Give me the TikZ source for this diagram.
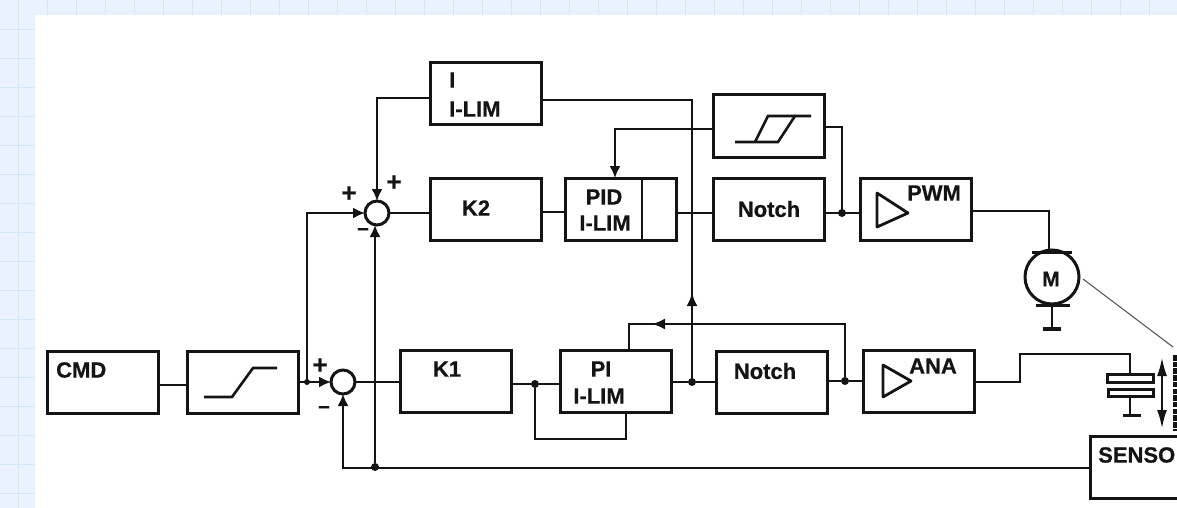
\documentclass[tikz,border=0pt]{standalone}
\usepackage{fontspec}
\setmainfont{Liberation Sans}[BoldFeatures={FakeBold=0.6}]
\usetikzlibrary{arrows.meta}
\definecolor{ink}{HTML}{141414}
\definecolor{gridbg}{HTML}{EAF3FD}
\definecolor{gridln}{HTML}{D4E6FA}
\tikzset{
  x=1pt,y=-1pt,
  wire/.style={draw=ink,line width=2pt},
  arr/.style={wire,-{Latex[length=12pt,width=11pt]}},
  blk/.style={draw=ink,line width=3pt,fill=white,minimum width=111pt,minimum height=62pt,inner sep=0pt,outer sep=0pt,anchor=north west},
  lab/.style={font=\fontsize{22}{24}\selectfont\bfseries,text=ink,inner sep=0pt,align=center},
  sum/.style={circle,draw=ink,line width=3pt,fill=white,minimum size=24pt,inner sep=0pt,outer sep=0pt},
  dot/.style={circle,fill=ink,minimum size=8pt,inner sep=0pt,outer sep=0pt},
  sgn/.style={font=\fontsize{26}{26}\selectfont\bfseries,text=ink,inner sep=0pt},
  thick2/.style={draw=ink,line width=3pt},
}
\begin{document}
\begin{tikzpicture}
\useasboundingbox (0,0) rectangle (1177,508);
\fill[gridbg] (0,0) rectangle (1177,508);
\foreach \i in {0,...,40} \draw[gridln,line width=0.9pt] (18+29*\i,0) -- (18+29*\i,15);
\foreach \i in {0,...,17} \draw[gridln,line width=0.9pt] (0,29+29*\i) -- (35,29+29*\i);
\draw[gridln,line width=0.9pt] (18,0) -- (18,508);
\fill[white] (35,15) rectangle (1177,508);
% blocks
\node[blk] (cmd) at (47,351) {};
\node[blk] (sat) at (187,351) {};
\node[blk] (k1) at (400,350) {};
\node[blk] (pi) at (560,350) {};
\node[blk] (n2) at (716,351) {};
\node[blk] (ana) at (863,350) {};
\node[blk] (ilim) at (430,63) {};
\node[blk] (k2) at (430,178) {};
\node[blk] (pid) at (565,178) {};
\node[blk] (hys) at (713,95) {};
\node[blk] (n1) at (713,178) {};
\node[blk] (pwm) at (860,178) {};
\path[clip] (0,0) rectangle (1177,508);
\node[blk,minimum width=120pt] (sens) at (1090,436) {};
\node[sum] (s1) at (377,213) {};
\node[sum] (s2) at (343,382) {};
\node[circle,draw=ink,line width=3pt,fill=white,minimum size=54pt,inner sep=0pt,outer sep=0pt] (mot) at (1052,277) {};
% dots and free points
\node[dot,minimum size=6pt] (d0) at (307,382) {};
\node[dot] (d1) at (535,384) {};
\node[dot] (d2) at (692,382) {};
\node[dot] (d3) at (845,381) {};
\node[dot] (d4) at (842,213) {};
\node[dot] (d5) at (375,467) {};
\coordinate (mt) at (1049,252);
\coordinate (cp) at (1130,374);
% labels
\node[lab,anchor=west] at (56,370) {CMD};
\node[lab,anchor=west] at (449,80) {I};
\node[lab,anchor=west] at (449,109) {I-LIM};
\node[lab] at (476,208) {K2};
\node[lab] at (604,197) {PID};
\node[lab] at (605,223) {I-LIM};
\node[lab] at (769,209) {Notch};
\node[lab] at (447,369) {K1};
\node[lab] at (601,369) {PI};
\node[lab] at (599,396) {I-LIM};
\node[lab] at (765,371) {Notch};
\node[lab] at (934,193) {PWM};
\node[lab] at (933,366) {ANA};
\node[lab,anchor=west] at (1098,455) {SENSO};
\node[font=\fontsize{21}{21}\selectfont\bfseries,text=ink] at (1051,279) {M};
\node[sgn] at (349,194) {+};
\node[sgn] at (394,183) {+};
\node[sgn] at (363,232) {\fontsize{20}{20}\selectfont −};
\node[sgn] at (320,366) {+};
\node[sgn] at (324,410) {\fontsize{20}{20}\selectfont −};
% connectors
\draw[wire,line width=2.6pt] (cmd.east |- 0,385) -- (sat.west |- 0,385);
\draw[arr] (sat.east |- s2.west) -- (s2.west);
\draw[arr] (d0.center) -- (d0.center |- s1.west) -- (s1.west);
\draw[wire] (s1.east) -- (k2.west |- s1.east);
\draw[wire] (k2.east |- 0,212) -- (pid.west |- 0,212);
\draw[wire] (pid.east |- d4) -- (n1.west |- d4);
\draw[wire] (n1.east |- d4) -- (pwm.west |- d4);
\draw[wire] (hys.east |- 0,127) -- (d4.center |- 0,127) -- (d4.center);
\draw[arr] (hys.west |- 0,129) -- (615,129) -- (pid.north -| 615,0);
\draw[arr] (ilim.west |- 0,98) -- (s1.north |- 0,98) -- (s1.north);
\draw[wire] (ilim.east |- 0,100) -- (692,100) -- (d2.center);
\draw[draw=ink,line width=2pt,-{Latex[length=13pt,width=11pt]}] (d2.center) -- (692,293);
\draw[wire] (pwm.east |- 0,211) -- (mt |- 0,211) -- (mt);
\draw[wire] (s2.east) -- (k1.west |- s2.east);
\draw[wire] (k1.east |- d1) -- (d1) -- (pi.west |- d1);
\draw[wire] (d1) -- (d1 |- 0,439) -- (626,439) -- (pi.south -| 626,0);
\draw[wire] (pi.east |- d2) -- (d2) -- (n2.west |- d2);
\draw[wire] (n2.east |- d3) -- (d3) -- (ana.west |- d3);
\draw[wire] (d3) -- (d3 |- 0,324) -- (629,324) -- (pi.north -| 629,0);
\draw[draw=ink,line width=2pt,-{Latex[length=13pt,width=11pt]}] (d3 |- 0,324) -- (652,324);
\draw[wire] (ana.east |- 0,382) -- (1020,382) -- (1020,354) -- (cp |- 0,354) -- (cp);
\draw[arr] (sens.west |- 0,468) -- (s2.south |- 0,468) -- (s2.south);
\draw[arr] (d5) -- (s1.south -| d5);
\draw[draw=ink!70,line width=1.1pt] (mot.east |- 0,279) ++(4,0) coordinate (ml) -- (1173,347);
% motor detail
\draw[thick2] (1032,252) -- (1072,252);
\draw[thick2] (1036,305) -- (1070,305);
\draw[wire] (1052,305) -- (1052,329);
\draw[draw=ink,line width=4.5pt] (1043,329) -- (1061,329);
% capacitor
\draw[thick2] (1107,374) rectangle (1153,382);
\draw[thick2] (1108,389) rectangle (1153,396);
\draw[wire] (1130,396) -- (1130,415);
\draw[thick2] (1123,415) -- (1141,415);
% motion arrows
\draw[draw=ink,line width=2.6pt,{Latex[length=19pt,width=10pt]}-{Latex[length=19pt,width=10pt]}] (1162,357) -- (1162,429);
% hatched column
\draw[draw=ink,line width=4.5pt,dash pattern=on 5.5pt off 1.2pt] (1175.3,355) -- (1175.3,431);
% saturation glyph
\draw[wire,line width=2.6pt] (204,397) -- (232,397) -- (253,368) -- (277,368);
% hysteresis glyph
\draw[wire,line width=2.6pt] (735,142) -- (778,142) -- (795,116) -- (811,116);
\draw[wire,line width=2.6pt] (755,142) -- (768,116) -- (795,116);
% amplifier triangles
\draw[draw=ink,line width=2.8pt,line join=round] (877,193) -- (908,213) -- (877,227) -- cycle;
\draw[draw=ink,line width=2.8pt,line join=round] (883,365) -- (911,381) -- (883,397) -- cycle;
% PID divider
\draw[wire,line width=2.4pt] (642,178) -- (642,241);
\end{tikzpicture}
\end{document}
